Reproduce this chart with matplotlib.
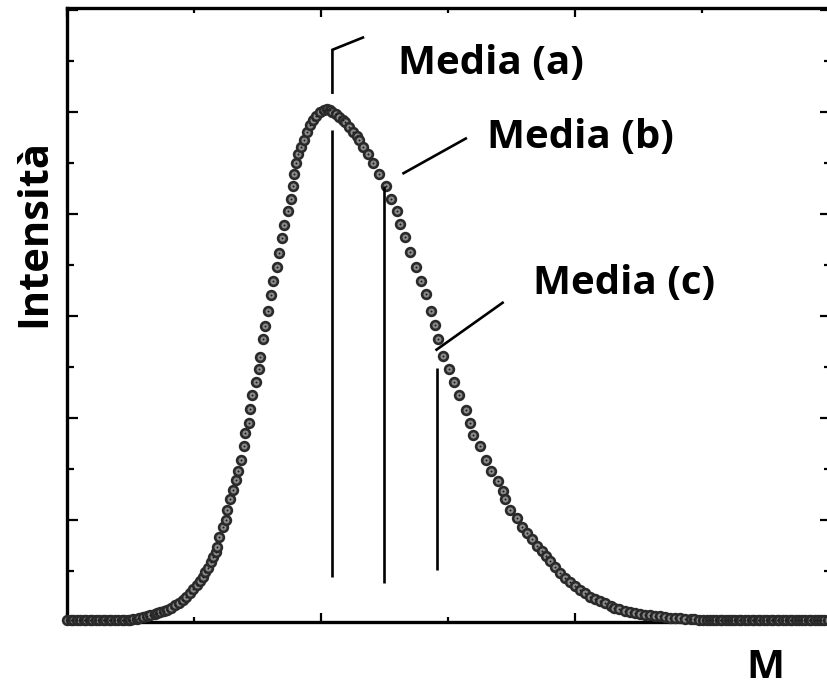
import matplotlib
matplotlib.use("Agg")
import matplotlib.pyplot as plt
from matplotlib.ticker import MultipleLocator, NullFormatter

# ---- data ----
m_values = [
    0.00, 0.03, 0.05, 0.08, 0.10, 0.13, 0.15, 0.18, 0.20, 0.23, 0.25, 0.28, 0.30, 0.33,
    0.35, 0.38, 0.40, 0.43, 0.45, 0.48, 0.50,
    0.52, 0.55, 0.57, 0.60, 0.63, 0.65, 0.69, 0.71, 0.73, 0.76, 0.79, 0.82, 0.85, 0.88,
    0.91, 0.94, 0.97, 0.99, 1.02, 1.05, 1.07, 1.09, 1.11, 1.13, 1.15, 1.17, 1.18, 1.20,
    1.23, 1.25, 1.26, 1.28, 1.31, 1.33, 1.35, 1.37, 1.39, 1.40, 1.43, 1.44, 1.46, 1.49,
    1.51, 1.52, 1.54, 1.56, 1.58, 1.61, 1.62, 1.65, 1.67, 1.69, 1.71, 1.74, 1.76, 1.78,
    1.79, 1.80, 1.82, 1.84, 1.87, 1.89, 1.91, 1.94, 1.96, 1.99, 2.02, 2.05, 2.07, 2.09,
    2.12, 2.14, 2.17, 2.19, 2.22, 2.25, 2.28, 2.30, 2.33, 2.37, 2.41, 2.46, 2.51, 2.55,
    2.60, 2.62, 2.66, 2.70, 2.75, 2.79, 2.83, 2.87, 2.90, 2.92, 2.96, 3.01, 3.05, 3.09,
    3.14, 3.17, 3.20, 3.25, 3.30, 3.34, 3.39, 3.43, 3.45, 3.49, 3.54, 3.58, 3.62, 3.66,
    3.70, 3.74, 3.77, 3.80, 3.84, 3.88, 3.92, 3.96, 4.00, 4.04, 4.08, 4.12, 4.16, 4.20,
    4.24, 4.28, 4.31, 4.35, 4.39, 4.43, 4.47, 4.51, 4.55, 4.59, 4.63, 4.67, 4.71, 4.75,
    4.79, 4.83, 4.87, 4.91, 4.94, 4.98,
    5.01, 5.04, 5.06, 5.09, 5.11, 5.14, 5.16, 5.19, 5.21, 5.24, 5.26, 5.29, 5.31, 5.34,
    5.36, 5.39, 5.41, 5.44, 5.46, 5.49, 5.51, 5.54, 5.56, 5.59, 5.61, 5.64, 5.66, 5.69,
    5.71, 5.74, 5.76, 5.79, 5.81, 5.84, 5.86, 5.89, 5.91, 5.94, 5.96, 5.99,
]
intensity = [
    0.015, 0.015, 0.015, 0.015, 0.015, 0.015, 0.015, 0.015, 0.015, 0.015, 0.015, 0.015,
    0.015, 0.015, 0.015, 0.015, 0.015, 0.015, 0.015, 0.015, 0.015,
    0.03, 0.034, 0.04, 0.05, 0.06, 0.07, 0.08, 0.09, 0.10, 0.11, 0.12, 0.14, 0.17, 0.19,
    0.22, 0.25, 0.28, 0.32, 0.36, 0.40, 0.44, 0.49, 0.53, 0.59, 0.64, 0.69, 0.74, 0.83,
    0.93, 1.00, 1.10, 1.21, 1.29, 1.39, 1.48, 1.59, 1.73, 1.85, 1.95, 2.09, 2.23, 2.35,
    2.48, 2.60, 2.77, 2.90, 3.05, 3.21, 3.34, 3.48, 3.62, 3.76, 3.89, 4.03, 4.15, 4.27,
    4.39, 4.50, 4.59, 4.66, 4.73, 4.80, 4.87, 4.92, 4.96, 5.00, 5.02, 5.03, 5.02, 5.00,
    4.98, 4.95, 4.92, 4.90, 4.85, 4.80, 4.76, 4.73, 4.66, 4.59, 4.50, 4.39, 4.27, 4.15,
    4.03, 3.90, 3.77, 3.63, 3.48, 3.34, 3.22, 3.05, 2.91, 2.77, 2.61, 2.48, 2.35, 2.23,
    2.08, 1.95, 1.83, 1.73, 1.59, 1.48, 1.38, 1.28, 1.21, 1.10, 1.02, 0.93, 0.87, 0.81,
    0.75, 0.70, 0.65, 0.60, 0.54, 0.48, 0.43, 0.39, 0.35, 0.31, 0.28, 0.25, 0.23, 0.21,
    0.19, 0.16, 0.14, 0.13, 0.11, 0.10, 0.09, 0.08, 0.07, 0.064, 0.06, 0.054, 0.05, 0.044,
    0.04, 0.04, 0.034, 0.03, 0.025, 0.02,
    0.015, 0.015, 0.015, 0.015, 0.015, 0.015, 0.015, 0.015, 0.015, 0.015, 0.015, 0.015,
    0.015, 0.015, 0.015, 0.015, 0.015, 0.015, 0.015, 0.015, 0.015, 0.015, 0.015, 0.015,
    0.015, 0.015, 0.015, 0.015, 0.015, 0.015, 0.015, 0.015, 0.015, 0.015, 0.015, 0.015,
    0.015, 0.015, 0.015, 0.015,
]

# mean lines: position, bottom, top
mean_labels = ["Media (a)", "Media (b)", "Media (c)"]
mean_pos = [2.09, 2.50, 2.91]
mean_bottom = [0.44, 0.38, 0.51]
mean_top = [4.82, 4.27, 2.49]

x_label = "M"
y_label = "Intensità"

# ---- figure ----
W, H, DPI = 828, 688, 100
fig = plt.figure(figsize=(W / DPI, H / DPI), dpi=DPI)
left_px, right_px, top_px, bottom_px = 67, 831, 8, 622
ax = fig.add_axes([left_px / W, 1 - bottom_px / H,
                   (right_px - left_px) / W, (bottom_px - top_px) / H])

ax.set_xlim(0, (right_px - left_px) / 127)
ax.set_ylim(0, (bottom_px - top_px) / 102)

for s in ax.spines.values():
    s.set_linewidth(2.4)
    s.set_color("black")

ax.xaxis.set_major_locator(MultipleLocator(2))
ax.xaxis.set_minor_locator(MultipleLocator(1))
ax.yaxis.set_major_locator(MultipleLocator(1))
ax.yaxis.set_minor_locator(MultipleLocator(0.5))
ax.xaxis.set_major_formatter(NullFormatter())
ax.yaxis.set_major_formatter(NullFormatter())
ax.tick_params(which="both", direction="in", top=True, right=True, width=1.6,
               colors="black")
ax.tick_params(which="major", axis="y", length=8)
ax.tick_params(which="minor", axis="y", length=5)
ax.tick_params(which="major", axis="x", length=6.5)
ax.tick_params(which="minor", axis="x", length=3.5)

# data markers
ax.plot(m_values, intensity, linestyle="none", marker="o", markersize=6.3,
        markerfacecolor="#8a8a8a", markeredgecolor="#2a2a2a", markeredgewidth=1.9,
        clip_on=False, zorder=3)
ax.plot(m_values, intensity, linestyle="none", marker="o", markersize=1.0,
        markerfacecolor="#1e1e1e", markeredgecolor="#1e1e1e", markeredgewidth=0.3,
        clip_on=False, zorder=4)

# mean lines
ax.vlines(mean_pos, mean_bottom, mean_top, colors="black", linewidth=1.9, zorder=5)

# leader lines
lw_leader = 1.9
ax.plot([2.09, 2.09, 2.33], [5.19, 5.61, 5.73], color="black", lw=lw_leader,
        solid_joinstyle="miter", zorder=5)
ax.plot([2.65, 3.14], [4.40, 4.74], color="black", lw=lw_leader, zorder=5)
ax.plot([2.91, 3.43], [2.67, 3.13], color="black", lw=lw_leader, zorder=5)

font = dict(family=["Open Sans", "DejaVu Sans"], fontweight="bold", fontsize=29,
            color="black")
label_xy = [(2.61, 5.48), (3.31, 4.75), (3.67, 3.32)]
for txt, (tx, ty) in zip(mean_labels, label_xy):
    ax.text(tx, ty, txt, ha="left", va="center", **font)

fig.text(35 / W, 1 - 233 / H, y_label, rotation=90, ha="center", va="center",
         **dict(font, fontsize=30))
fig.text(765 / W, 1 - 668 / H, x_label, ha="center", va="center", **font)

fig.savefig("out.png", dpi=DPI)
